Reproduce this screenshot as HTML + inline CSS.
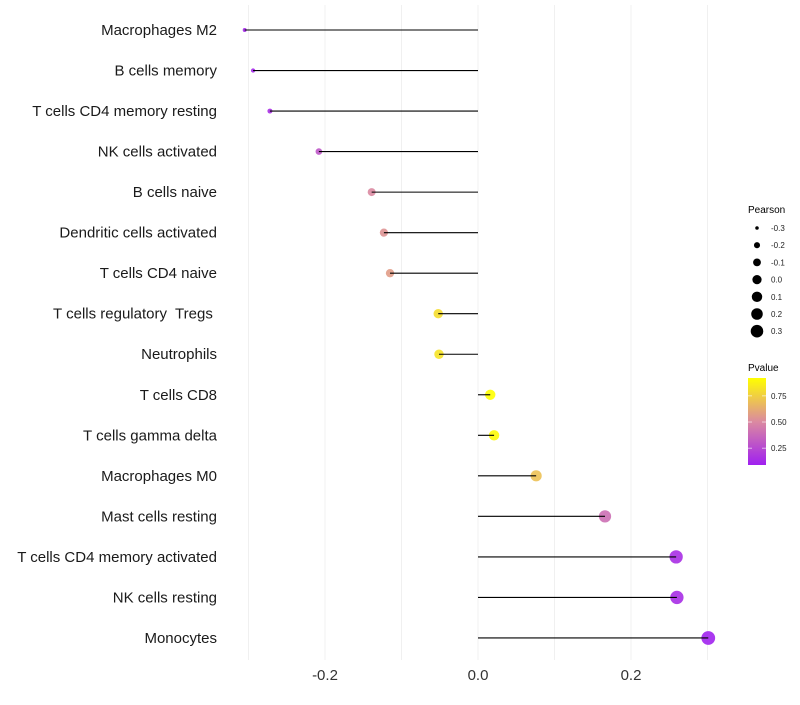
<!DOCTYPE html>
<html><head><meta charset="utf-8"><style>
body{margin:0;background:#fff;font-family:"Liberation Sans",sans-serif}
text{white-space:pre}
</style></head><body>
<svg id="c" width="800" height="700" xmlns="http://www.w3.org/2000/svg"></svg>
<script>
const categories=["Macrophages M2","B cells memory","T cells CD4 memory resting","NK cells activated","B cells naive","Dendritic cells activated","T cells CD4 naive","T cells regulatory  Tregs ","Neutrophils","T cells CD8","T cells gamma delta","Macrophages M0","Mast cells resting","T cells CD4 memory activated","NK cells resting","Monocytes"];
const pearson=[-0.305,-0.294,-0.272,-0.208,-0.139,-0.123,-0.115,-0.052,-0.051,0.016,0.021,0.076,0.166,0.259,0.260,0.301];
const pvalue=[0.12,0.12,0.15,0.3,0.5,0.54,0.57,0.8,0.82,0.92,0.9,0.7,0.4,0.15,0.14,0.1];
const xTicks=[-0.2,0,0.2];
const xGrid=[-0.3,-0.2,-0.1,0,0.1,0.2,0.3];
const sizeLegend=[-0.3,-0.2,-0.1,0.0,0.1,0.2,0.3];
const pTicks=[0.25,0.5,0.75];
const NS="http://www.w3.org/2000/svg";
const svg=document.getElementById('c');
function mk(t,a){const e=document.createElementNS(NS,t);for(const k in a)e.setAttribute(k,a[k]);svg.appendChild(e);return e;}
const x=v=>478+v*765;
const y=i=>30+i*40.53;
const pmin=0.09,pmax=0.92;
const rad=v=>{const t=(v+0.31)/0.62;return Math.sqrt(3.5+t*(48-3.5));};
const lrad=v=>{const t=(v+0.31)/0.62;return Math.sqrt(2.5+t*(40-2.5));};
function lerp(a,b,t){return a.map((c,i)=>Math.round(c+(b[i]-c)*t));}
function col(p){const t=Math.max(0,Math.min(1,(p-pmin)/(pmax-pmin)));
 const s=[[160,32,240],[219,138,160],[255,255,0]];
 const c=t<0.5?lerp(s[0],s[1],t*2):lerp(s[1],s[2],(t-0.5)*2);return `rgb(${c})`;}
xGrid.forEach(v=>{const g=mk('line',{x1:x(v),x2:x(v),y1:5,y2:660,stroke:'#f0f0f0','stroke-width':1});
});
xTicks.forEach(v=>{const t=mk('text',{x:x(v),y:680,'text-anchor':'middle','font-size':15,fill:'#333'});t.textContent=v===0?'0.0':v.toFixed(1);
});
categories.forEach((c,i)=>{
 const t=mk('text',{x:217,y:y(i)+5,'text-anchor':'end','font-size':15,fill:'#1a1a1a'});t.textContent=c;
 
 const p=mk('circle',{cx:x(pearson[i]),cy:y(i),r:rad(pearson[i]),fill:col(pvalue[i]),'fill-opacity':0.9});
 
 const l=mk('line',{x1:x(0),x2:x(pearson[i]),y1:y(i),y2:y(i),stroke:'#000','stroke-width':1.1});
 
});
let t=mk('text',{x:748,y:213,'font-size':10,fill:'#000'});t.textContent='Pearson';

sizeLegend.forEach((v,i)=>{const cy=228+i*17.2;
 const c=mk('circle',{cx:757,cy:cy,r:lrad(v),fill:'#000'});
 const l=mk('text',{x:771,y:cy+3,'font-size':8,fill:'#222'});l.textContent=v.toFixed(1);
 });
t=mk('text',{x:748,y:371,'font-size':10,fill:'#000'});t.textContent='Pvalue';

const defs=mk('defs',{});defs.innerHTML='<linearGradient id="g" x1="0" y1="1" x2="0" y2="0"><stop offset="0" stop-color="rgb(160,32,240)"/><stop offset="0.5" stop-color="rgb(219,138,160)"/><stop offset="1" stop-color="rgb(255,255,0)"/></linearGradient>';
const bar=mk('rect',{x:748,y:378,width:18,height:87,fill:'url(#g)'});

const py=p=>465-(p-pmin)/(pmax-pmin)*87;
pTicks.forEach(p=>{mk('line',{x1:748,x2:752,y1:py(p),y2:py(p),stroke:'#fff','stroke-opacity':0.6});mk('line',{x1:762,x2:766,y1:py(p),y2:py(p),stroke:'#fff','stroke-opacity':0.6});
 const l=mk('text',{x:771,y:py(p)+3,'font-size':8,fill:'#222'});l.textContent=p.toFixed(2);
 });
</script>
</body></html>
